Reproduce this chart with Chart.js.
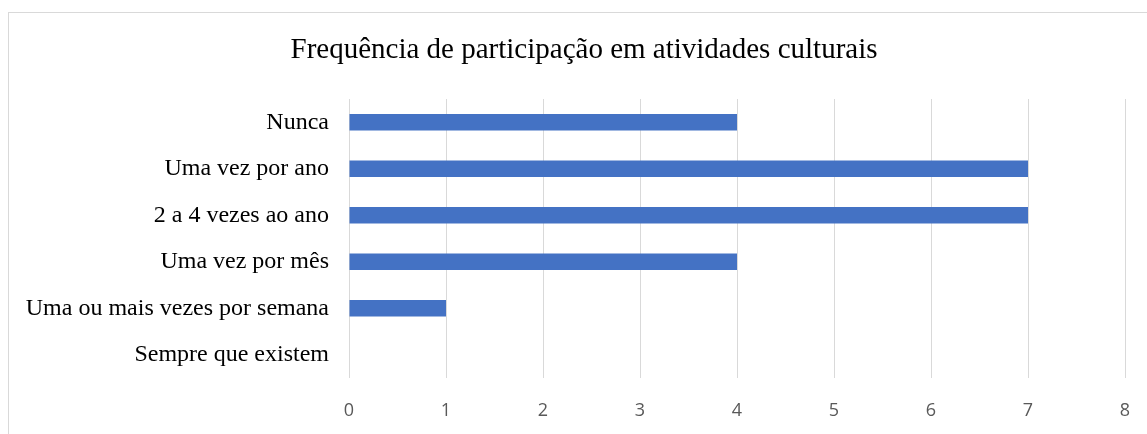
<!DOCTYPE html>
<html>
<head>
<meta charset="utf-8">
<script src="https://cdn.jsdelivr.net/npm/chart.js@4"></script>
<style>
  html, body { margin: 0; padding: 0; background: #fff; }
  #frame { position: absolute; left: 8px; top: 12px; width: 1150px; height: 440px; border: 1px solid #d9d9d9; box-sizing: border-box; }
  #wrap { position: absolute; left: 0; top: 0; width: 1147px; height: 434px; }
</style>
</head>
<body>
<div id="frame"></div>
<div id="wrap"><canvas id="chart" width="1147" height="434"></canvas></div>
<script>
// dados
const categorias = ['Nunca', 'Uma vez por ano', '2 a 4 vezes ao ano', 'Uma vez por mês', 'Uma ou mais vezes por semana', 'Sempre que existem'];
const valores = [4, 7, 7, 4, 1, 0];
const titulo = 'Frequência de participação em atividades culturais';

// título centrado na moldura (não no canvas)
const tituloPlugin = {
  id: 'tituloPlugin',
  afterDraw(chart) {
    const c = chart.ctx;
    c.save();
    c.font = '29px "Liberation Serif"';
    c.fillStyle = '#000';
    c.textAlign = 'center';
    c.textBaseline = 'middle';
    c.fillText(titulo, 584, 50);
    c.restore();
  }
};

const ctx = document.getElementById('chart').getContext('2d');
new Chart(ctx, {
  type: 'bar',
  data: {
    labels: categorias,
    datasets: [{
      data: valores,
      backgroundColor: '#4472C4',
      barPercentage: 0.35,
      categoryPercentage: 1
    }]
  },
  options: {
    indexAxis: 'y',
    responsive: false,
    animation: false,
    layout: { padding: { left: 0, right: 22, top: 99, bottom: 0 } },
    plugins: {
      legend: { display: false },
      tooltip: { enabled: false },
      title: { display: false }
    },
    scales: {
      x: {
        min: 0, max: 8,
        ticks: { stepSize: 1, color: '#595959', font: { family: 'Open Sans', size: 18 }, padding: 22 },
        grid: { color: '#d9d9d9', drawTicks: false },
        border: { display: false },
        afterFit: s => { s.height = 56; s.paddingLeft = 0; s.paddingRight = 0; }
      },
      y: {
        ticks: { color: '#000', font: { family: 'Liberation Serif', size: 24 }, padding: 20 },
        grid: { display: false, drawTicks: false },
        border: { display: false },
        afterFit: s => { s.width = 349; }
      }
    }
  },
  plugins: [tituloPlugin]
});
</script>
</body>
</html>
